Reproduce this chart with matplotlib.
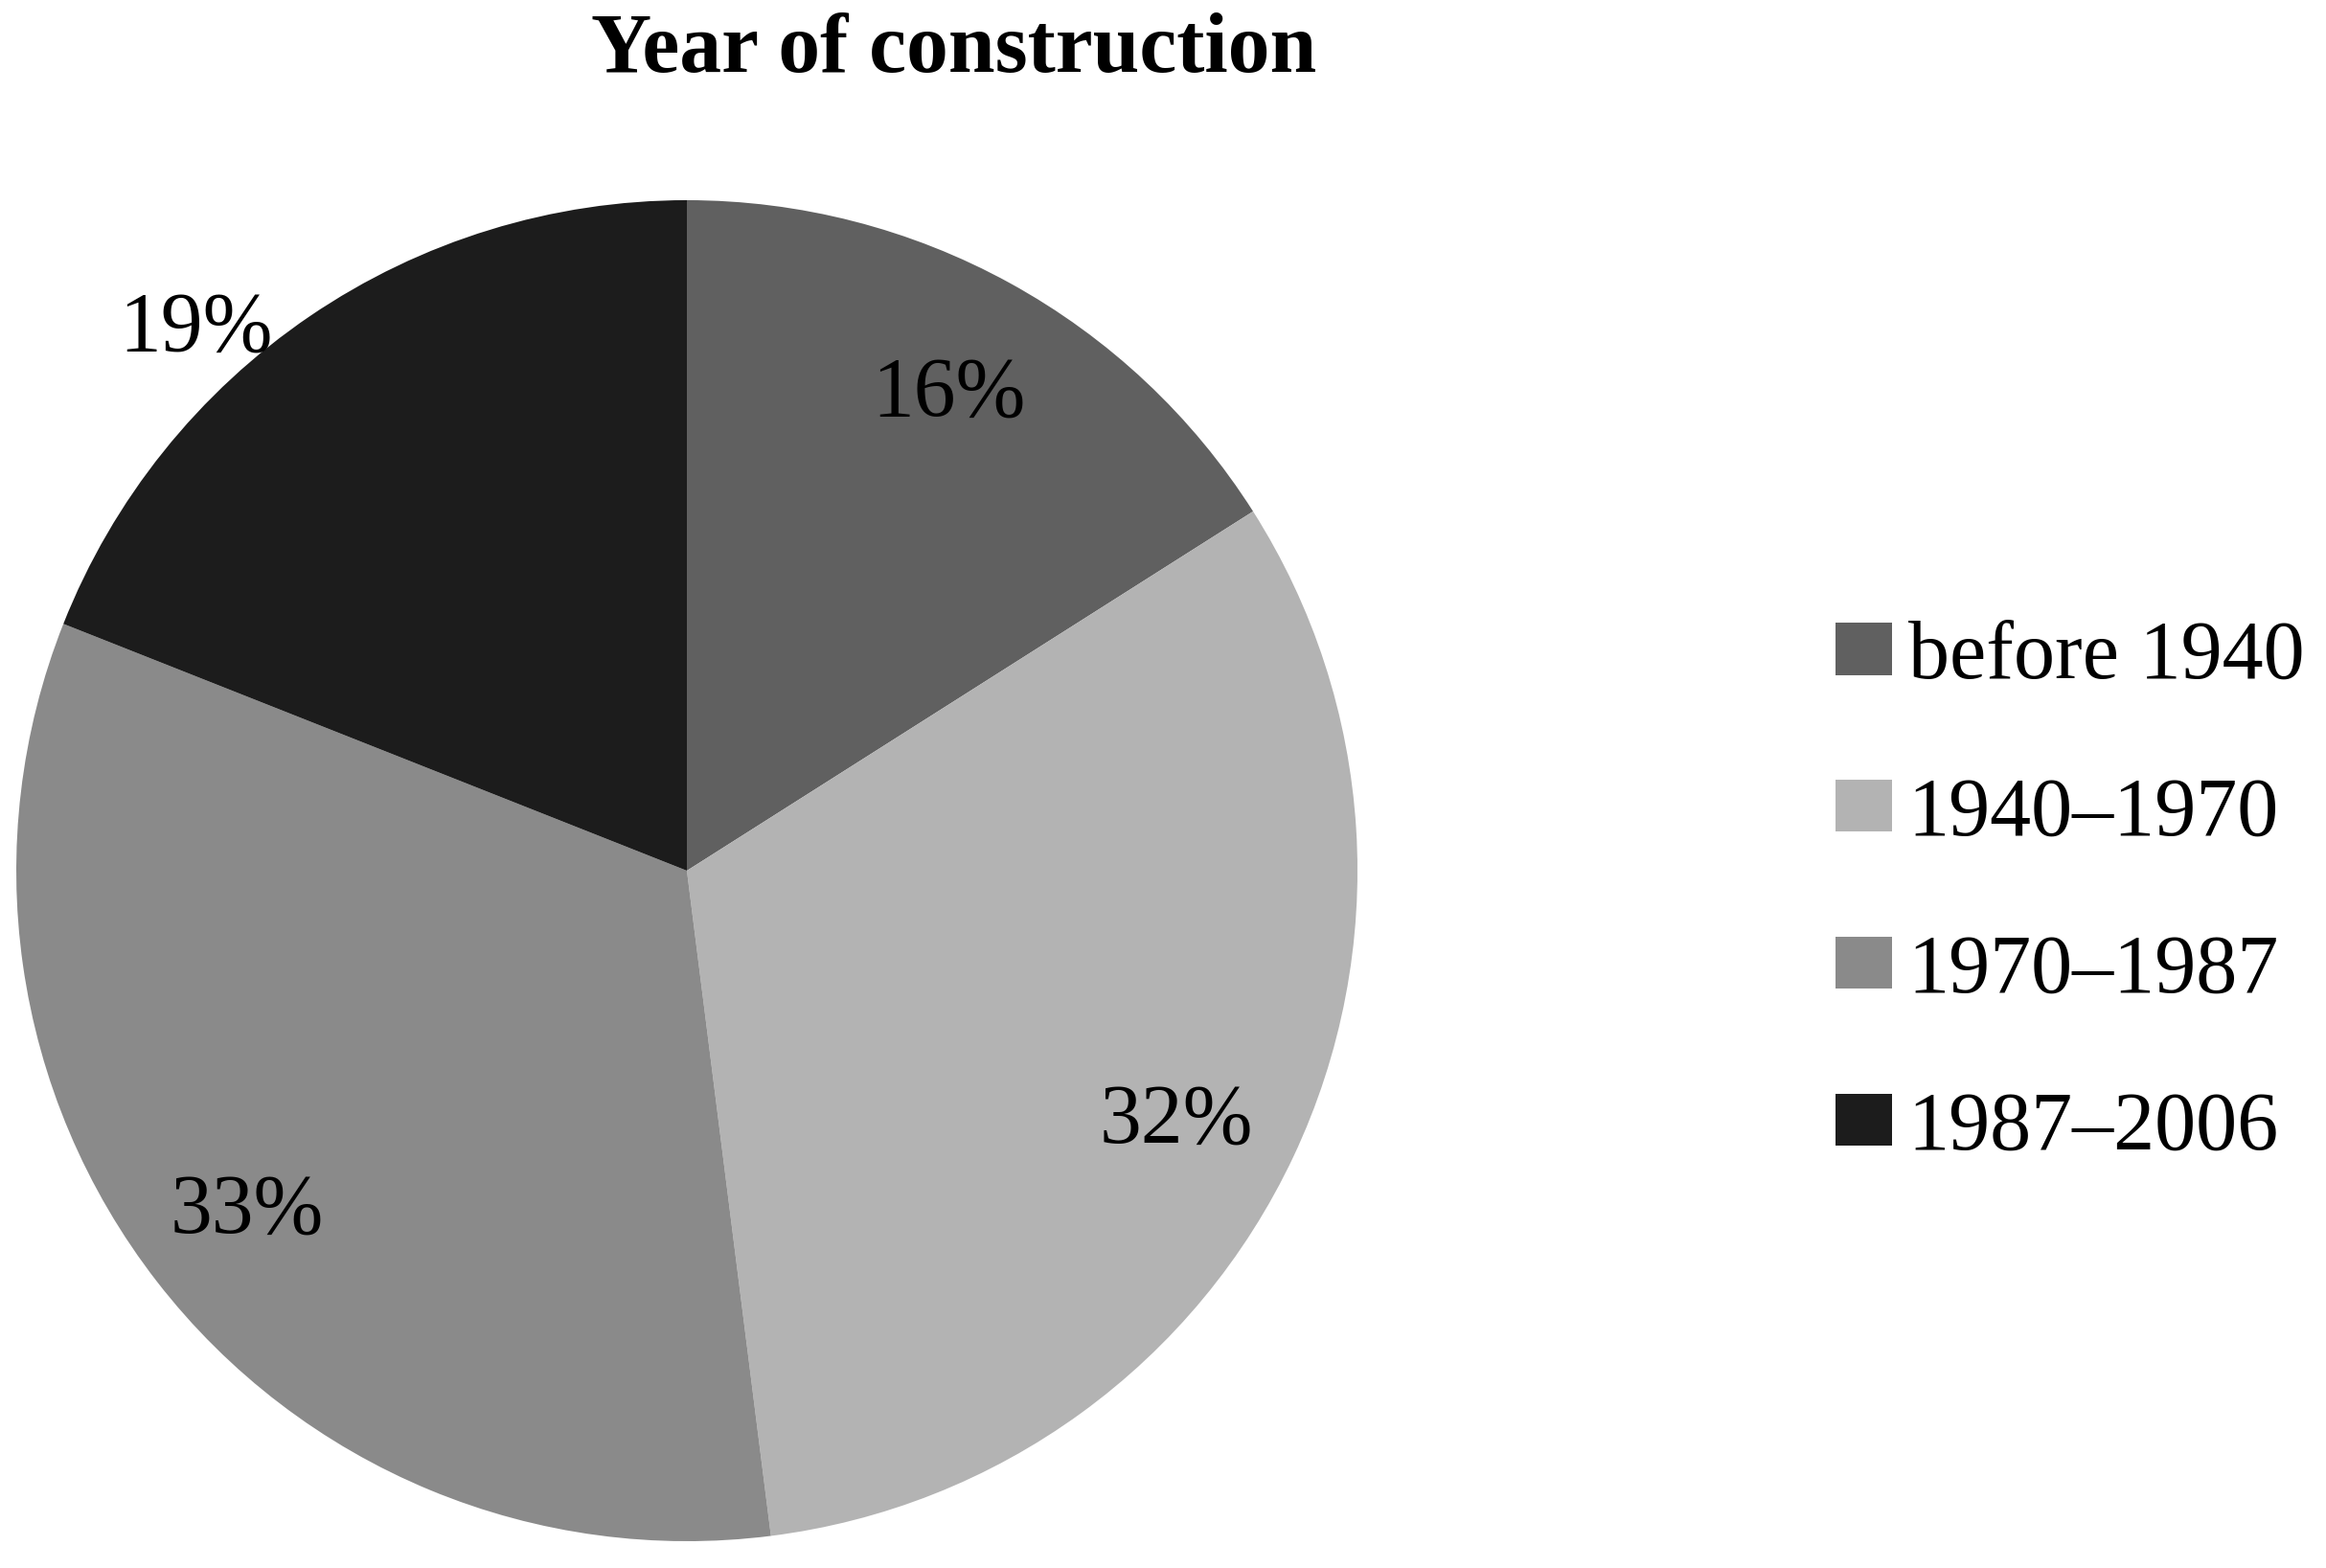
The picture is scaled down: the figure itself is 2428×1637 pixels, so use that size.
import matplotlib.pyplot as plt
import numpy as np

# data
categories = ["before 1940", "1940\u20131970", "1970\u20131987", "1987\u20132006"]
shares = [16, 32, 33, 19]
slice_colors = ["#606060", "#b3b3b3", "#8a8a8a", "#1c1c1c"]

plt.rcParams['font.family'] = ['Liberation Serif', 'DejaVu Serif']

W, H = 2428, 1637
fig = plt.figure(figsize=(W / 100, H / 100), dpi=100)

# pie: centre (717, 909) px, radius ~700 px
cx, cy, r = 717, 909, 700
ax = fig.add_axes([(cx - r) / W, (H - cy - r) / H, 2 * r / W, 2 * r / H])
wedges, texts, autotexts = ax.pie(
    shares, colors=slice_colors, startangle=90, counterclock=False,
    autopct='%.0f%%', pctdistance=0.82,
    textprops={'fontsize': 63, 'color': 'black'},
)
ax.set_xlim(-1, 1)
ax.set_ylim(-1, 1)
ax.set_aspect('equal')

# the last label sits out on the edge, as in the original
label_dist = [0.81, 0.82, 0.83, 1.09]
label_shift = [0, -2, 0, 8]  # degrees
for w, t, d, s in zip(wedges, autotexts, label_dist, label_shift):
    ang = np.deg2rad((w.theta1 + w.theta2) / 2 + s)
    t.set_position((d * np.cos(ang), d * np.sin(ang)))
    t.set_clip_on(False)

fig.text(996 / W, 1 - 54 / H, "Year of construction", ha='center', va='center',
         fontsize=63, fontweight='bold')

fig.legend(wedges, categories, loc='center left',
           bbox_to_anchor=(1916 / W, 1 - 933 / H), frameon=False,
           fontsize=62, handlelength=0.68, handleheight=0.59,
           handletextpad=0.2, labelspacing=0.98, borderpad=0, borderaxespad=0)

plt.savefig('out.png', dpi=100)
